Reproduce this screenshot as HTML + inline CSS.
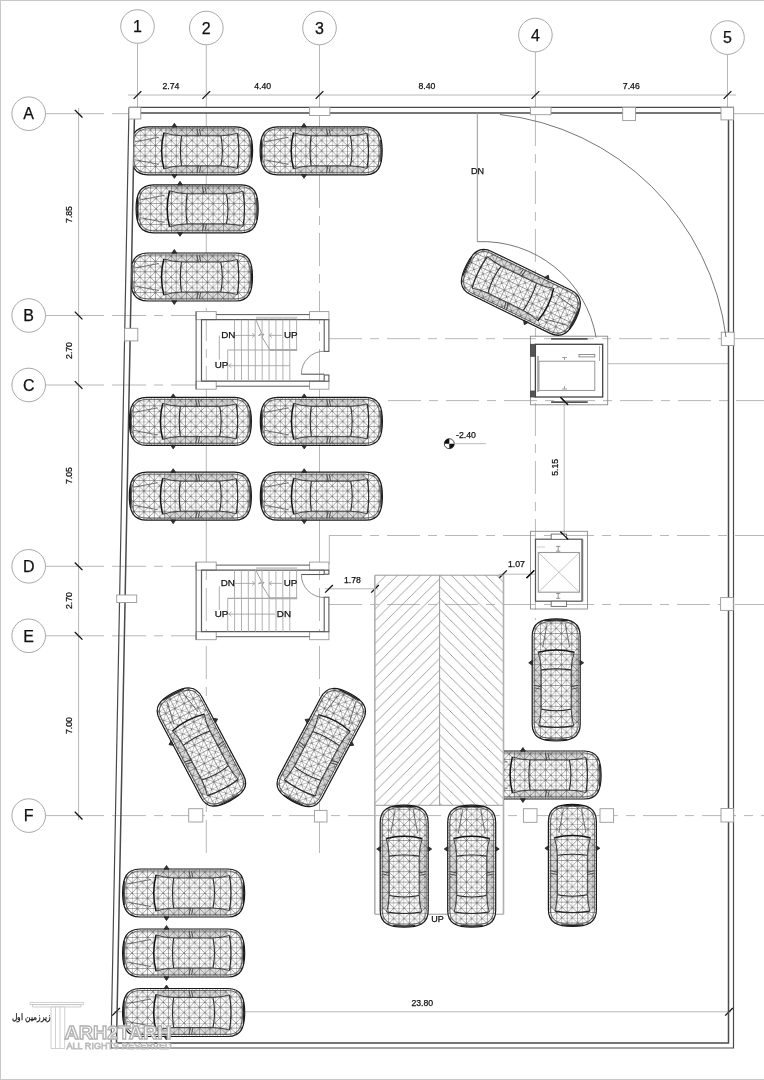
<!DOCTYPE html><html><head><meta charset="utf-8"><style>
html,body{margin:0;padding:0;background:#fff;overflow:hidden}
svg{display:block;will-change:transform}
text{font-family:"Liberation Sans",sans-serif;fill:#111;stroke:#111;stroke-width:0.25px}
</style></head><body>
<svg width="764" height="1080" viewBox="0 0 764 1080">
<defs>
<pattern id="mesh" patternUnits="userSpaceOnUse" width="10.4" height="10.4" x="0" y="0">
 <path d="M0 0H10.4M0 5.2H10.4M0 0V10.4M5.2 0V10.4M0 0L10.4 10.4M10.4 0L0 10.4" stroke="#333" stroke-width="0.45" fill="none"/>
</pattern>
<clipPath id="bodyclip"><path d="M-61.4 0 C-61.4 -15 -57.5 -24 -44 -24 L44 -24 C57 -24 60.7 -15 60.7 0 C60.7 15 57 24 44 24 L-44 24 C-57.5 24 -61.4 15 -61.4 0 Z"/></clipPath>
<g id="car">
 <path d="M-61.4 0 C-61.4 -15 -57.5 -24 -44 -24 L44 -24 C57 -24 60.7 -15 60.7 0 C60.7 15 57 24 44 24 L-44 24 C-57.5 24 -61.4 15 -61.4 0 Z" fill="#fff"/>
 <rect x="-62" y="-25" width="124" height="50" fill="url(#mesh)" clip-path="url(#bodyclip)"/>
 <path d="M-59.3 0 C-59.3 -13.8 -55.8 -22 -43.5 -22 L43.5 -22 C55.3 -22 58.6 -13.8 58.6 0 C58.6 13.8 55.3 22 43.5 22 L-43.5 22 C-55.8 22 -59.3 13.8 -59.3 0 Z" fill="none" stroke="#444" stroke-width="0.8"/>
 <path d="M-61.4 0 C-61.4 -15 -57.5 -24 -44 -24 L44 -24 C57 -24 60.7 -15 60.7 0 C60.7 15 57 24 44 24 L-44 24 C-57.5 24 -61.4 15 -61.4 0 Z" fill="none" stroke="#1a1a1a" stroke-width="1.2"/>
 <path d="M-59.8 -12 Q-60.8 0 -59.8 12" fill="none" stroke="#222" stroke-width="1.4"/>
 <path d="M59.2 -11 Q60.2 0 59.2 11" fill="none" stroke="#222" stroke-width="1.2"/>
 <path d="M-28 -18 Q-32.5 0 -28 18" fill="none" stroke="#141414" stroke-width="1.5"/>
 <path d="M-10.4 -15 Q-12.5 0 -10.4 15" fill="none" stroke="#2a2a2a" stroke-width="1.1"/>
 <path d="M29 -15 Q32 0 29 15" fill="none" stroke="#2a2a2a" stroke-width="1.1"/>
 <path d="M45.5 -17.5 Q48.5 0 45.5 17.5" fill="none" stroke="#2a2a2a" stroke-width="1.2"/>
 <path d="M-28 -18 Q-20 -15.5 -10.4 -15 L29 -15 Q38 -15.5 45.5 -17.5" fill="none" stroke="#333" stroke-width="0.9"/>
 <path d="M-28 18 Q-20 15.5 -10.4 15 L29 15 Q38 15.5 45.5 17.5" fill="none" stroke="#333" stroke-width="0.9"/>
 <path d="M-26 -21.8 L42 -21.8 L45.5 -17.5 Q38 -15.5 29 -15 L-10.4 -15 Q-20 -15.5 -28 -18Z" fill="#555" fill-opacity="0.2"/>
 <path d="M-26 21.8 L42 21.8 L45.5 17.5 Q38 15.5 29 15 L-10.4 15 Q-20 15.5 -28 18Z" fill="#555" fill-opacity="0.2"/>
 <path d="M-57 -9 L-33 -13.5 M-57 9 L-33 13.5" stroke="#444" stroke-width="0.7"/>
 <path d="M-20 -23.8 L-17.5 -27.5 L-15 -23.8Z M-20 23.8 L-17.5 27.5 L-15 23.8Z" fill="#333" stroke="#222" stroke-width="0.8"/>
 <path d="M5 -21.8 L6.5 -15 M7.5 -21.8 L9 -15 M5 21.8 L6.5 15 M7.5 21.8 L9 15" stroke="#333" stroke-width="0.8"/>
</g>

<pattern id="hatchL" patternUnits="userSpaceOnUse" width="11.4" height="11.4" x="374.8" y="575.2">
 <path d="M-1 1L1 -1M0 11.4L11.4 0M10.4 12.4L12.4 10.4" stroke="#8a8a8a" stroke-width="0.8"/>
</pattern>
<pattern id="hatchR" patternUnits="userSpaceOnUse" width="11.4" height="11.4" x="439.6" y="575.2">
 <path d="M-1 -1L1 1M0 0L11.4 11.4M10.4 10.4L12.4 12.4" stroke="#8a8a8a" stroke-width="0.8"/>
</pattern>
<clipPath id="interior"><polygon points="134.5,112.9 728.5,112.9 728.5,1043 116.5,1043"/></clipPath>
<clipPath id="rampclip"><rect x="504" y="700" width="260" height="150"/></clipPath>
</defs>
<rect width="764" height="1080" fill="#fff"/>
<line x1="0" y1="0.5" x2="764" y2="0.5" stroke="#c8c8c8" stroke-width="1"/>
<line x1="0.5" y1="0" x2="0.5" y2="1080" stroke="#c8c8c8" stroke-width="1"/>
<line x1="0" y1="1079.5" x2="764" y2="1079.5" stroke="#c8c8c8" stroke-width="1"/>

<line x1="137.5" y1="43.5" x2="137.5" y2="108" stroke="#b8b8b8" stroke-width="1"/>
<line x1="206.3" y1="45" x2="206.3" y2="108" stroke="#b8b8b8" stroke-width="1"/>
<line x1="319.5" y1="45" x2="319.5" y2="108" stroke="#b8b8b8" stroke-width="1"/>
<line x1="535.4" y1="52" x2="535.4" y2="108" stroke="#b8b8b8" stroke-width="1"/>
<line x1="727.5" y1="54.6" x2="727.5" y2="108" stroke="#b8b8b8" stroke-width="1"/>
<line x1="206.3" y1="113" x2="206.3" y2="250" stroke="#b8b8b8" stroke-width="1"/>
<line x1="206.3" y1="250" x2="206.3" y2="385" stroke="#b8b8b8" stroke-width="1" stroke-dasharray="33 8 9 8"/>
<line x1="206.3" y1="385" x2="206.3" y2="530" stroke="#b8b8b8" stroke-width="1"/>
<line x1="206.3" y1="530" x2="206.3" y2="856" stroke="#b8b8b8" stroke-width="1" stroke-dasharray="33 8 9 8"/>
<line x1="319.5" y1="113" x2="319.5" y2="175" stroke="#b8b8b8" stroke-width="1"/>
<line x1="319.5" y1="175" x2="319.5" y2="385" stroke="#b8b8b8" stroke-width="1" stroke-dasharray="33 8 9 8"/>
<line x1="319.5" y1="385" x2="319.5" y2="530" stroke="#b8b8b8" stroke-width="1"/>
<line x1="319.5" y1="530" x2="319.5" y2="856" stroke="#b8b8b8" stroke-width="1" stroke-dasharray="33 8 9 8"/>
<line x1="535.4" y1="113" x2="535.4" y2="620" stroke="#b8b8b8" stroke-width="1" stroke-dasharray="33 8 9 8"/>
<line x1="45.5" y1="113.7" x2="104" y2="113.7" stroke="#b8b8b8" stroke-width="1"/>
<line x1="45.5" y1="315.5" x2="104" y2="315.5" stroke="#b8b8b8" stroke-width="1"/>
<line x1="45.5" y1="385" x2="104" y2="385" stroke="#b8b8b8" stroke-width="1"/>
<line x1="45.5" y1="566.3" x2="104" y2="566.3" stroke="#b8b8b8" stroke-width="1"/>
<line x1="45.5" y1="635.8" x2="104" y2="635.8" stroke="#b8b8b8" stroke-width="1"/>
<line x1="45.5" y1="815.6" x2="104" y2="815.6" stroke="#b8b8b8" stroke-width="1"/>
<line x1="104" y1="113.7" x2="130" y2="113.7" stroke="#b8b8b8" stroke-width="1" stroke-dasharray="34 8 9 8" stroke-dashoffset="51"/>
<line x1="104" y1="315.5" x2="196" y2="315.5" stroke="#b8b8b8" stroke-width="1" stroke-dasharray="34 8 9 8" stroke-dashoffset="51"/>
<line x1="104" y1="385" x2="196" y2="385" stroke="#b8b8b8" stroke-width="1" stroke-dasharray="34 8 9 8" stroke-dashoffset="51"/>
<line x1="104" y1="566.3" x2="196" y2="566.3" stroke="#b8b8b8" stroke-width="1" stroke-dasharray="34 8 9 8" stroke-dashoffset="51"/>
<line x1="104" y1="635.8" x2="196" y2="635.8" stroke="#b8b8b8" stroke-width="1" stroke-dasharray="34 8 9 8" stroke-dashoffset="51"/>
<line x1="104" y1="815.6" x2="764" y2="815.6" stroke="#b8b8b8" stroke-width="1" stroke-dasharray="34 8 9 8" stroke-dashoffset="51"/>
<line x1="329" y1="338.7" x2="764" y2="338.7" stroke="#b8b8b8" stroke-width="1" stroke-dasharray="33 8 9 8"/>
<line x1="388" y1="400.6" x2="764" y2="400.6" stroke="#b8b8b8" stroke-width="1" stroke-dasharray="33 8 9 8"/>
<line x1="329" y1="535.5" x2="764" y2="535.5" stroke="#b8b8b8" stroke-width="1" stroke-dasharray="33 8 9 8"/>
<line x1="329" y1="604.5" x2="764" y2="604.5" stroke="#b8b8b8" stroke-width="1" stroke-dasharray="33 8 9 8"/>
<line x1="608" y1="363.7" x2="728.5" y2="363.7" stroke="#b8b8b8" stroke-width="1"/>
<line x1="733.5" y1="113.7" x2="764" y2="113.7" stroke="#b8b8b8" stroke-width="1"/>
<circle cx="137.5" cy="26.5" r="16.8" fill="#fff" stroke="#a8a8a8" stroke-width="1"/>
<text x="137.5" y="32.2" font-size="16" text-anchor="middle">1</text>
<circle cx="206.3" cy="28" r="16.8" fill="#fff" stroke="#a8a8a8" stroke-width="1"/>
<text x="206.3" y="33.7" font-size="16" text-anchor="middle">2</text>
<circle cx="319.5" cy="28" r="16.8" fill="#fff" stroke="#a8a8a8" stroke-width="1"/>
<text x="319.5" y="33.7" font-size="16" text-anchor="middle">3</text>
<circle cx="535.4" cy="35" r="16.8" fill="#fff" stroke="#a8a8a8" stroke-width="1"/>
<text x="535.4" y="40.7" font-size="16" text-anchor="middle">4</text>
<circle cx="727.5" cy="37.6" r="16.8" fill="#fff" stroke="#a8a8a8" stroke-width="1"/>
<text x="727.5" y="43.300000000000004" font-size="16" text-anchor="middle">5</text>
<circle cx="28.7" cy="113.7" r="16.8" fill="#fff" stroke="#a8a8a8" stroke-width="1"/>
<text x="28.7" y="119.4" font-size="16" text-anchor="middle">A</text>
<circle cx="28.7" cy="315.5" r="16.8" fill="#fff" stroke="#a8a8a8" stroke-width="1"/>
<text x="28.7" y="321.2" font-size="16" text-anchor="middle">B</text>
<circle cx="28.7" cy="385" r="16.8" fill="#fff" stroke="#a8a8a8" stroke-width="1"/>
<text x="28.7" y="390.7" font-size="16" text-anchor="middle">C</text>
<circle cx="28.7" cy="566.3" r="16.8" fill="#fff" stroke="#a8a8a8" stroke-width="1"/>
<text x="28.7" y="572.0" font-size="16" text-anchor="middle">D</text>
<circle cx="28.7" cy="635.8" r="16.8" fill="#fff" stroke="#a8a8a8" stroke-width="1"/>
<text x="28.7" y="641.5" font-size="16" text-anchor="middle">E</text>
<circle cx="28.7" cy="815.6" r="16.8" fill="#fff" stroke="#a8a8a8" stroke-width="1"/>
<text x="28.7" y="821.3000000000001" font-size="16" text-anchor="middle">F</text>
<line x1="128" y1="95.0" x2="736" y2="95.0" stroke="#b8b8b8" stroke-width="1"/>
<line x1="133.65" y1="98.85" x2="141.35" y2="91.15" stroke="#111" stroke-width="1.3"/>
<line x1="202.45000000000002" y1="98.85" x2="210.15" y2="91.15" stroke="#111" stroke-width="1.3"/>
<line x1="315.65" y1="98.85" x2="323.35" y2="91.15" stroke="#111" stroke-width="1.3"/>
<line x1="531.55" y1="98.85" x2="539.25" y2="91.15" stroke="#111" stroke-width="1.3"/>
<line x1="723.65" y1="98.85" x2="731.35" y2="91.15" stroke="#111" stroke-width="1.3"/>
<text x="170.9" y="88.9" font-size="8.7" text-anchor="middle">2.74</text>
<text x="262.7" y="88.9" font-size="8.7" text-anchor="middle">4.40</text>
<text x="427" y="88.9" font-size="8.7" text-anchor="middle">8.40</text>
<text x="631.3" y="88.9" font-size="8.7" text-anchor="middle">7.46</text>
<line x1="78.6" y1="108" x2="78.6" y2="820" stroke="#b8b8b8" stroke-width="1"/>
<line x1="74.75" y1="109.85000000000001" x2="82.44999999999999" y2="117.55" stroke="#111" stroke-width="1.3"/>
<line x1="74.75" y1="311.65" x2="82.44999999999999" y2="319.35" stroke="#111" stroke-width="1.3"/>
<line x1="74.75" y1="381.15" x2="82.44999999999999" y2="388.85" stroke="#111" stroke-width="1.3"/>
<line x1="74.75" y1="562.4499999999999" x2="82.44999999999999" y2="570.15" stroke="#111" stroke-width="1.3"/>
<line x1="74.75" y1="631.9499999999999" x2="82.44999999999999" y2="639.65" stroke="#111" stroke-width="1.3"/>
<line x1="74.75" y1="811.75" x2="82.44999999999999" y2="819.45" stroke="#111" stroke-width="1.3"/>
<text transform="translate(72 214.5) rotate(-90)" font-size="8.7" text-anchor="middle">7.85</text>
<text transform="translate(72 350.5) rotate(-90)" font-size="8.7" text-anchor="middle">2.70</text>
<text transform="translate(72 475.5) rotate(-90)" font-size="8.7" text-anchor="middle">7.05</text>
<text transform="translate(72 600.6) rotate(-90)" font-size="8.7" text-anchor="middle">2.70</text>
<text transform="translate(72 725.6) rotate(-90)" font-size="8.7" text-anchor="middle">7.00</text>
<line x1="564.2" y1="401" x2="564.2" y2="535.5" stroke="#b8b8b8" stroke-width="1"/>
<line x1="560.35" y1="397.15" x2="568.0500000000001" y2="404.85" stroke="#111" stroke-width="1.3"/>
<line x1="560.35" y1="531.65" x2="568.0500000000001" y2="539.35" stroke="#111" stroke-width="1.3"/>
<text transform="translate(558.2 467.3) rotate(-90)" font-size="8.7" text-anchor="middle">5.15</text>
<line x1="325" y1="588.8" x2="378" y2="588.8" stroke="#b8b8b8" stroke-width="1"/>
<line x1="325.15" y1="592.65" x2="332.85" y2="584.9499999999999" stroke="#111" stroke-width="1.3"/>
<line x1="371.15" y1="592.65" x2="378.85" y2="584.9499999999999" stroke="#111" stroke-width="1.3"/>
<text x="352.4" y="582.5" font-size="8.7" text-anchor="middle">1.78</text>
<line x1="499" y1="574.2" x2="535" y2="574.2" stroke="#b8b8b8" stroke-width="1"/>
<line x1="499.15" y1="578.0500000000001" x2="506.85" y2="570.35" stroke="#111" stroke-width="1.3"/>
<line x1="526.55" y1="578.0500000000001" x2="534.25" y2="570.35" stroke="#111" stroke-width="1.3"/>
<text x="516.5" y="567" font-size="8.7" text-anchor="middle">1.07</text>
<line x1="114" y1="1011.8" x2="731" y2="1011.8" stroke="#b8b8b8" stroke-width="1"/>
<line x1="112.15" y1="1015.65" x2="119.85" y2="1007.9499999999999" stroke="#111" stroke-width="1.3"/>
<line x1="725.15" y1="1015.65" x2="732.85" y2="1007.9499999999999" stroke="#111" stroke-width="1.3"/>
<text x="422.3" y="1005.5" font-size="8.7" text-anchor="middle">23.80</text>
<polyline points="129,107.4 733.5,107.4 733.5,1048 111,1048 129,107.4" fill="none" stroke="#4a4a4a" stroke-width="1.2"/>
<polyline points="134.5,112.9 728.5,112.9 728.5,1043 116.5,1043 134.5,112.9" fill="none" stroke="#4a4a4a" stroke-width="1.5"/>
<rect x="129" y="107.4" width="11.8" height="11.6" fill="#fff" stroke="#999" stroke-width="0.9"/>
<rect x="309.6" y="107.4" width="20.3" height="8.1" fill="#fff" stroke="#999" stroke-width="0.9"/>
<rect x="530.4" y="107.4" width="20.6" height="7.3" fill="#fff" stroke="#999" stroke-width="0.9"/>
<rect x="622.7" y="107.4" width="12.8" height="13.2" fill="#fff" stroke="#999" stroke-width="0.9"/>
<rect x="721" y="107.4" width="12.5" height="12.5" fill="#fff" stroke="#999" stroke-width="0.9"/>
<rect x="124.6" y="328.3" width="13.2" height="12.6" fill="#fff" stroke="#999" stroke-width="0.9"/>
<rect x="116.7" y="595" width="20.0" height="7.5" fill="#fff" stroke="#999" stroke-width="0.9"/>
<rect x="721.3" y="332.2" width="12.9" height="13.3" fill="#fff" stroke="#999" stroke-width="0.9"/>
<rect x="720.6" y="597.6" width="12.7" height="12.8" fill="#fff" stroke="#999" stroke-width="0.9"/>
<rect x="188.7" y="808.7" width="14.1" height="13.3" fill="#fff" stroke="#999" stroke-width="0.9"/>
<rect x="314.4" y="810.4" width="12.6" height="11.6" fill="#fff" stroke="#999" stroke-width="0.9"/>
<rect x="523.4" y="808.7" width="13.6" height="13.6" fill="#fff" stroke="#999" stroke-width="0.9"/>
<rect x="600" y="808.7" width="13.6" height="13.6" fill="#fff" stroke="#999" stroke-width="0.9"/>
<rect x="721" y="808.5" width="12.5" height="13.5" fill="#fff" stroke="#999" stroke-width="0.9"/>
<line x1="477.3" y1="113" x2="477.3" y2="241.7" stroke="#999" stroke-width="1"/>
<path d="M477.3 241.7 A115.4 115.4 0 0 1 596.1 337.5" fill="none" stroke="#666" stroke-width="0.9"/>
<path d="M500 114.5 A256 256 0 0 1 726 337" fill="none" stroke="#666" stroke-width="0.9"/>
<text x="477.5" y="174" font-size="9" text-anchor="middle">DN</text>
<rect x="196" y="311.6" width="20.2" height="8.1" fill="#fff" stroke="#999" stroke-width="0.9"/>
<rect x="196" y="381.20000000000005" width="20.2" height="8.0" fill="#fff" stroke="#999" stroke-width="0.9"/>
<rect x="309.6" y="311.6" width="19.3" height="8.1" fill="#fff" stroke="#999" stroke-width="0.9"/>
<rect x="309.6" y="381.20000000000005" width="19.3" height="8.0" fill="#fff" stroke="#999" stroke-width="0.9"/>
<path d="M216.2 314.6 H309.6 M216.2 386.20000000000005 H309.6" stroke="#5a5a5a" stroke-width="1"/>
<path d="M196.1 311.6 V389.20000000000005" stroke="#5a5a5a" stroke-width="1"/>
<path d="M324.2 319.70000000000005 H201.5 V381.20000000000005 H324.2" fill="none" stroke="#5a5a5a" stroke-width="1.2"/>
<rect x="324.2" y="319.70000000000005" width="4.699999999999989" height="31.69999999999999" fill="#fff" stroke="#5a5a5a" stroke-width="1.1"/>
<rect x="324.2" y="375" width="4.699999999999989" height="6.2000000000000455" fill="#fff" stroke="#5a5a5a" stroke-width="1.1"/>
<path d="M324.2 374.2 H301.3" stroke="#5a5a5a" stroke-width="1.1"/>
<path d="M301.3 374.2 A23 23 0 0 1 324.2 351.2" fill="none" stroke="#777" stroke-width="0.8"/>
<line x1="234.5" y1="319.70000000000005" x2="234.5" y2="350.0" stroke="#a8a8a8" stroke-width="0.9"/>
<line x1="241.4" y1="319.70000000000005" x2="241.4" y2="350.0" stroke="#a8a8a8" stroke-width="0.9"/>
<line x1="248.3" y1="319.70000000000005" x2="248.3" y2="350.0" stroke="#a8a8a8" stroke-width="0.9"/>
<line x1="255.2" y1="319.70000000000005" x2="255.2" y2="350.0" stroke="#a8a8a8" stroke-width="0.9"/>
<line x1="262.1" y1="319.70000000000005" x2="262.1" y2="350.0" stroke="#a8a8a8" stroke-width="0.9"/>
<line x1="269.0" y1="319.70000000000005" x2="269.0" y2="350.0" stroke="#a8a8a8" stroke-width="0.9"/>
<line x1="275.9" y1="319.70000000000005" x2="275.9" y2="350.0" stroke="#a8a8a8" stroke-width="0.9"/>
<line x1="282.8" y1="319.70000000000005" x2="282.8" y2="350.0" stroke="#a8a8a8" stroke-width="0.9"/>
<line x1="289.7" y1="319.70000000000005" x2="289.7" y2="350.0" stroke="#a8a8a8" stroke-width="0.9"/>
<line x1="296.6" y1="319.70000000000005" x2="296.6" y2="350.0" stroke="#a8a8a8" stroke-width="0.9"/>
<line x1="227.7" y1="350.0" x2="227.7" y2="381.20000000000005" stroke="#a8a8a8" stroke-width="0.9"/>
<line x1="234.6" y1="350.0" x2="234.6" y2="381.20000000000005" stroke="#a8a8a8" stroke-width="0.9"/>
<line x1="241.5" y1="350.0" x2="241.5" y2="381.20000000000005" stroke="#a8a8a8" stroke-width="0.9"/>
<line x1="248.4" y1="350.0" x2="248.4" y2="381.20000000000005" stroke="#a8a8a8" stroke-width="0.9"/>
<line x1="255.3" y1="350.0" x2="255.3" y2="381.20000000000005" stroke="#a8a8a8" stroke-width="0.9"/>
<line x1="262.2" y1="350.0" x2="262.2" y2="381.20000000000005" stroke="#a8a8a8" stroke-width="0.9"/>
<line x1="269.1" y1="350.0" x2="269.1" y2="381.20000000000005" stroke="#a8a8a8" stroke-width="0.9"/>
<line x1="276.0" y1="350.0" x2="276.0" y2="381.20000000000005" stroke="#a8a8a8" stroke-width="0.9"/>
<line x1="282.9" y1="350.0" x2="282.9" y2="381.20000000000005" stroke="#a8a8a8" stroke-width="0.9"/>
<line x1="289.8" y1="350.0" x2="289.8" y2="381.20000000000005" stroke="#a8a8a8" stroke-width="0.9"/>
<line x1="227.7" y1="350.0" x2="297" y2="350.0" stroke="#a8a8a8" stroke-width="1.2"/>
<path d="M255.9 319.70000000000005 L261.5 333.0 L258.5 335.5 L264 334.0 L262 337.0 L270 350.0" fill="none" stroke="#888" stroke-width="0.8"/>
<rect x="255.9" y="316.70000000000005" width="41.3" height="2.2" fill="#ccc"/>
<line x1="270" y1="350.0" x2="297.2" y2="350.0" stroke="#aaa" stroke-width="2"/>
<line x1="219.3" y1="335.6" x2="219.3" y2="359.6" stroke="#999" stroke-width="0.8"/>
<text x="228.3" y="337.8" font-size="9.8" text-anchor="middle">DN</text>
<text x="290.7" y="337.8" font-size="9.8" text-anchor="middle">UP</text>
<text x="221.5" y="368.0" font-size="9.8" text-anchor="middle">UP</text>
<line x1="235" y1="335.4" x2="255" y2="335.4" stroke="#999" stroke-width="0.8"/>
<line x1="269" y1="335.4" x2="282" y2="335.4" stroke="#999" stroke-width="0.8"/>
<line x1="228.7" y1="365.7" x2="290" y2="365.7" stroke="#999" stroke-width="0.8"/>
<path d="M252 333.2L255 335.4L252 337.6M272 333.2L269 335.4L272 337.6M231.5 363.5L228.7 365.7L231.5 367.9" fill="none" stroke="#999" stroke-width="0.7"/>
<rect x="196" y="562.1" width="20.2" height="8.1" fill="#fff" stroke="#999" stroke-width="0.9"/>
<rect x="196" y="631.7" width="20.2" height="8.0" fill="#fff" stroke="#999" stroke-width="0.9"/>
<rect x="309.6" y="562.1" width="19.3" height="8.1" fill="#fff" stroke="#999" stroke-width="0.9"/>
<rect x="309.6" y="631.7" width="19.3" height="8.0" fill="#fff" stroke="#999" stroke-width="0.9"/>
<path d="M216.2 565.1 H309.6 M216.2 636.7 H309.6" stroke="#5a5a5a" stroke-width="1"/>
<path d="M196.1 562.1 V639.7" stroke="#5a5a5a" stroke-width="1"/>
<path d="M324.2 570.2 H201.5 V631.7 H324.2" fill="none" stroke="#5a5a5a" stroke-width="1.2"/>
<rect x="324.2" y="570.2" width="4.699999999999989" height="4" fill="#fff" stroke="#5a5a5a" stroke-width="1.1"/>
<rect x="324.2" y="597.2" width="4.699999999999989" height="34.5" fill="#fff" stroke="#5a5a5a" stroke-width="1.1"/>
<path d="M324.2 574.5 H301.3" stroke="#5a5a5a" stroke-width="1.1"/>
<path d="M301.3 574.5 A23 23 0 0 0 324.2 597.5" fill="none" stroke="#777" stroke-width="0.8"/>
<line x1="234.5" y1="570.2" x2="234.5" y2="598.3000000000001" stroke="#a8a8a8" stroke-width="0.9"/>
<line x1="241.4" y1="570.2" x2="241.4" y2="598.3000000000001" stroke="#a8a8a8" stroke-width="0.9"/>
<line x1="248.3" y1="570.2" x2="248.3" y2="598.3000000000001" stroke="#a8a8a8" stroke-width="0.9"/>
<line x1="255.2" y1="570.2" x2="255.2" y2="598.3000000000001" stroke="#a8a8a8" stroke-width="0.9"/>
<line x1="262.1" y1="570.2" x2="262.1" y2="598.3000000000001" stroke="#a8a8a8" stroke-width="0.9"/>
<line x1="269.0" y1="570.2" x2="269.0" y2="598.3000000000001" stroke="#a8a8a8" stroke-width="0.9"/>
<line x1="275.9" y1="570.2" x2="275.9" y2="598.3000000000001" stroke="#a8a8a8" stroke-width="0.9"/>
<line x1="282.8" y1="570.2" x2="282.8" y2="598.3000000000001" stroke="#a8a8a8" stroke-width="0.9"/>
<line x1="289.7" y1="570.2" x2="289.7" y2="598.3000000000001" stroke="#a8a8a8" stroke-width="0.9"/>
<line x1="296.6" y1="570.2" x2="296.6" y2="598.3000000000001" stroke="#a8a8a8" stroke-width="0.9"/>
<line x1="227.7" y1="598.3000000000001" x2="227.7" y2="631.7" stroke="#a8a8a8" stroke-width="0.9"/>
<line x1="234.6" y1="598.3000000000001" x2="234.6" y2="631.7" stroke="#a8a8a8" stroke-width="0.9"/>
<line x1="241.5" y1="598.3000000000001" x2="241.5" y2="631.7" stroke="#a8a8a8" stroke-width="0.9"/>
<line x1="248.4" y1="598.3000000000001" x2="248.4" y2="631.7" stroke="#a8a8a8" stroke-width="0.9"/>
<line x1="255.3" y1="598.3000000000001" x2="255.3" y2="631.7" stroke="#a8a8a8" stroke-width="0.9"/>
<line x1="262.2" y1="598.3000000000001" x2="262.2" y2="631.7" stroke="#a8a8a8" stroke-width="0.9"/>
<line x1="269.1" y1="598.3000000000001" x2="269.1" y2="631.7" stroke="#a8a8a8" stroke-width="0.9"/>
<line x1="276.0" y1="598.3000000000001" x2="276.0" y2="631.7" stroke="#a8a8a8" stroke-width="0.9"/>
<line x1="282.9" y1="598.3000000000001" x2="282.9" y2="631.7" stroke="#a8a8a8" stroke-width="0.9"/>
<line x1="289.8" y1="598.3000000000001" x2="289.8" y2="631.7" stroke="#a8a8a8" stroke-width="0.9"/>
<line x1="227.7" y1="598.3000000000001" x2="297" y2="598.3000000000001" stroke="#a8a8a8" stroke-width="1.2"/>
<path d="M255.9 570.2 L261.5 581.3000000000001 L258.5 583.8000000000001 L264 582.3000000000001 L262 585.3000000000001 L270 598.3000000000001" fill="none" stroke="#888" stroke-width="0.8"/>
<rect x="255.9" y="567.2" width="41.3" height="2.2" fill="#ccc"/>
<line x1="270" y1="598.3000000000001" x2="297.2" y2="598.3000000000001" stroke="#aaa" stroke-width="2"/>
<line x1="219.3" y1="586.1" x2="219.3" y2="610.1" stroke="#999" stroke-width="0.8"/>
<text x="227.8" y="585.9" font-size="9.8" text-anchor="middle">DN</text>
<text x="290.6" y="585.9" font-size="9.8" text-anchor="middle">UP</text>
<text x="221.6" y="616.5999999999999" font-size="9.8" text-anchor="middle">UP</text>
<text x="283.9" y="616.5999999999999" font-size="9.8" text-anchor="middle">DN</text>
<line x1="235" y1="583.4" x2="255" y2="583.4" stroke="#999" stroke-width="0.8"/>
<line x1="269" y1="583.4" x2="282" y2="583.4" stroke="#999" stroke-width="0.8"/>
<line x1="228.7" y1="614.1" x2="275" y2="614.1" stroke="#999" stroke-width="0.8"/>
<path d="M252 581.2L255 583.4L252 585.6M272 581.2L269 583.4L272 585.6M231.5 611.9L228.7 614.1L231.5 616.3" fill="none" stroke="#999" stroke-width="0.7"/>
<rect x="530.4" y="336.2" width="77.3" height="68.6" fill="none" stroke="#888" stroke-width="0.9"/>
<rect x="535.4" y="344.3" width="67.3" height="52.7" fill="none" stroke="#444" stroke-width="1.3"/>
<rect x="530.6" y="344.3" width="4.8" height="12" fill="#555" stroke="#444" stroke-width="0.8"/>
<rect x="530.6" y="391" width="4.8" height="6" fill="#555" stroke="#444" stroke-width="0.8"/>
<path d="M562 357.5H567M564.5 357.5V360M562 389H567M564.5 389V386" stroke="#666" stroke-width="0.6"/>
<line x1="599.5" y1="346" x2="599.5" y2="361" stroke="#999" stroke-width="0.8"/>
<line x1="551.1" y1="338.9" x2="587.7" y2="338.9" stroke="#555" stroke-width="1.6"/>
<line x1="551.1" y1="402.1" x2="587.7" y2="402.1" stroke="#555" stroke-width="1.6"/>
<rect x="539" y="361.2" width="55.8" height="29.2" fill="none" stroke="#8a8a8a" stroke-width="0.9"/>
<rect x="579" y="354.5" width="15.8" height="2.4" fill="none" stroke="#777" stroke-width="0.8"/>
<line x1="538" y1="356" x2="538" y2="392" stroke="#999" stroke-width="1.5"/>
<line x1="560.35" y1="397.15" x2="568.0500000000001" y2="404.85" stroke="#111" stroke-width="1.3"/>
<rect x="530.5" y="531.3" width="57" height="77.7" fill="none" stroke="#8a8a8a" stroke-width="0.9"/>
<rect x="535.5" y="539.2" width="46.5" height="62" fill="none" stroke="#555" stroke-width="1.2"/>
<line x1="582.6" y1="539.2" x2="582.6" y2="601.2" stroke="#777" stroke-width="1.3"/>
<rect x="551.2" y="534.1" width="15.4" height="5.2" fill="#fff" stroke="#666" stroke-width="0.9"/>
<rect x="551.2" y="601.2" width="15.4" height="5.2" fill="#fff" stroke="#666" stroke-width="0.9"/>
<rect x="538.3" y="552.5" width="41.2" height="39.7" fill="none" stroke="#999" stroke-width="1.1"/>
<path d="M538.3 552.5L579.5 592.2M579.5 552.5L538.3 592.2" stroke="#aaa" stroke-width="0.7"/>
<path d="M556.1 546.4H560.3M558.2 546.4V551.2M556.1 551.2H560.3 M556.1 593.4H560.3M558.2 593.4V598.3M556.1 598.3H560.3" stroke="#666" stroke-width="0.7"/>
<line x1="537" y1="547" x2="545" y2="547" stroke="#aaa" stroke-width="0.6"/>
<line x1="560.35" y1="531.65" x2="568.0500000000001" y2="539.35" stroke="#111" stroke-width="1.3"/>
<line x1="329.3" y1="535.5" x2="329.3" y2="565" stroke="#b8b8b8" stroke-width="1"/>
<line x1="526.55" y1="578.0500000000001" x2="534.25" y2="570.35" stroke="#111" stroke-width="1.3"/>
<rect x="374.8" y="575.2" width="64.8" height="230" fill="url(#hatchL)"/>
<rect x="439.6" y="575.2" width="64.4" height="230" fill="url(#hatchR)"/>
<path d="M374.8 575.2H504 M439.6 575.2V805.3 M374.8 805.3H504 M374.8 914.2H503.5" stroke="#999" stroke-width="1"/>
<path d="M374.8 575.2V914.2 M503.5 575.2V914.2" stroke="#b0b0b0" stroke-width="1.6"/>
<text x="437.6" y="921.8" font-size="9" text-anchor="middle">UP</text>
<circle cx="449.3" cy="443.7" r="5" fill="#fff" stroke="#222" stroke-width="0.8"/>
<path d="M449.3 443.7 V438.7 A5 5 0 0 0 444.3 443.7Z M449.3 443.7 V448.7 A5 5 0 0 0 454.3 443.7Z" fill="#111"/>
<line x1="454.6" y1="443.7" x2="486" y2="443.7" stroke="#bbb" stroke-width="1"/>
<text x="456" y="437.7" font-size="8.7" text-anchor="start">-2.40</text>
<g clip-path="url(#interior)"><use href="#car" transform="translate(191.9 150.8) rotate(0)"/></g>
<g clip-path="url(#interior)"><use href="#car" transform="translate(321.5 150.8) rotate(0)"/></g>
<g clip-path="url(#interior)"><use href="#car" transform="translate(197.5 208.8) rotate(0)"/></g>
<g clip-path="url(#interior)"><use href="#car" transform="translate(191.8 277) rotate(0)"/></g>
<g clip-path="url(#interior)"><use href="#car" transform="translate(190.7 421.4) rotate(0)"/></g>
<g clip-path="url(#interior)"><use href="#car" transform="translate(321.7 421.4) rotate(0)"/></g>
<g clip-path="url(#interior)"><use href="#car" transform="translate(190.7 496.2) rotate(0)"/></g>
<g clip-path="url(#interior)"><use href="#car" transform="translate(321.7 496.2) rotate(0)"/></g>
<g clip-path="url(#interior)"><use href="#car" transform="translate(184 893) rotate(0)"/></g>
<g clip-path="url(#interior)"><use href="#car" transform="translate(184 953) rotate(0)"/></g>
<g clip-path="url(#interior)"><use href="#car" transform="translate(184 1012.5) rotate(0)"/></g>
<g><use href="#car" transform="translate(520.6 292.3) rotate(206)"/></g>
<g><use href="#car" transform="translate(201.5 747.3) rotate(62)"/></g>
<g><use href="#car" transform="translate(321.2 747.8) rotate(118)"/></g>
<g><use href="#car" transform="translate(556.2 680.3) rotate(90)"/></g>
<g clip-path="url(#rampclip)"><use href="#car" transform="translate(540.4 775) rotate(0)"/></g>
<g><use href="#car" transform="translate(404.2 866.5) rotate(90)"/></g>
<g><use href="#car" transform="translate(471.7 866.5) rotate(90)"/></g>
<g><use href="#car" transform="translate(572.4 865.7) rotate(90)"/></g>
<text x="50.5" y="1020.3" font-size="9" text-anchor="end" textLength="39" lengthAdjust="spacingAndGlyphs" style="font-family:'Liberation Serif',serif">زیرزمین اول</text>
<g fill="#fff" stroke="#c4c4c4" stroke-width="0.8"><path d="M30 1002.4H83.4V1004.6H30Z M32.5 1004.6H81V1007H32.5Z"/><path d="M51 1007V1048.5H64.7V1007Z" /><path d="M55.5 1007V1048.5M60 1007V1048.5" fill="none"/></g>
<text x="118" y="1038.8" font-size="18.5" font-weight="bold" text-anchor="middle" textLength="107" lengthAdjust="spacingAndGlyphs" style="fill:#fff;fill-opacity:0.85;stroke:#b0b0b0;stroke-width:1.3">ARH2TARH</text>
<text x="119" y="1048.6" font-size="9.3" text-anchor="middle" textLength="105" lengthAdjust="spacingAndGlyphs" style="fill:#fff;stroke:#bbb;stroke-width:0.8">ALL RIGHTS RESERVED</text>
</svg></body></html>
